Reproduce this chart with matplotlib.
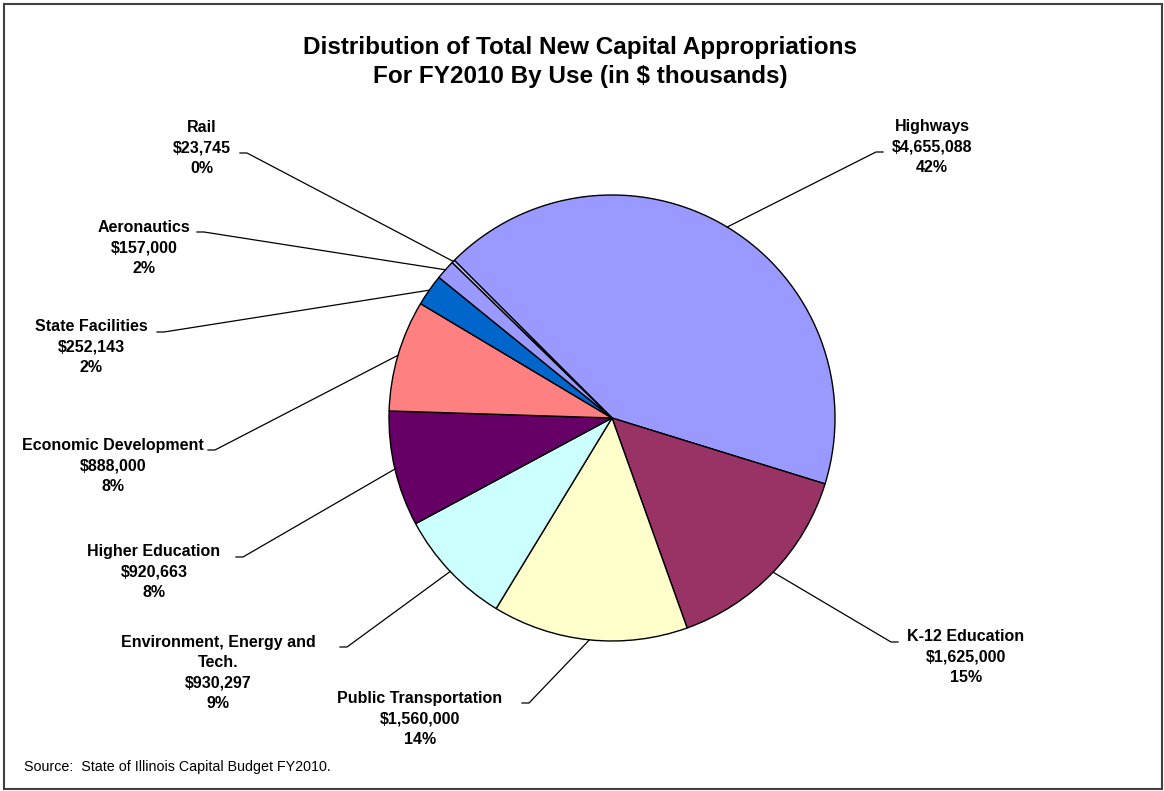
import numpy as np
import matplotlib
matplotlib.use("Agg")
import matplotlib.pyplot as plt
from matplotlib.patches import Rectangle

plt.rcParams['font.family'] = ['Liberation Sans', 'DejaVu Sans']

W, H = 1164, 791

# capital appropriations by use, $ thousands (clockwise from Highways)
uses = ["Highways", "K-12 Education", "Public Transportation",
        "Environment, Energy and\nTech.", "Higher Education",
        "Economic Development", "State Facilities", "Aeronautics", "Rail"]
amounts = [4655088, 1625000, 1560000, 930297, 920663, 888000, 252143, 157000, 23745]
shares = [42, 15, 14, 9, 8, 8, 2, 2, 0]
colors = ["#9999FF", "#993366", "#FFFFCC", "#CCFFFF", "#660066",
          "#FF8080", "#0066CC", "#9999FF", "#CCCCFF"]

# label block centres and where the leader leaves the text (pixels from top-left)
label_pos = [(932, 147), (966, 657), (420, 719), (218, 673), (154, 572),
             (113, 466), (91, 347), (144, 248), (202, 148)]
leader_start = [(883, 152), (898, 642), (522, 703), (340, 647), (236, 557),
                (208, 450), (157, 332), (197, 232), (240, 153)]
leader_dir = [-1, -1, 1, 1, 1, 1, 1, 1, 1]

cx, cy, r = 612, 418, 223


def py(y):
    return H - y


fig = plt.figure(figsize=(W / 100, H / 100), dpi=100)
ax = fig.add_axes([0, 0, 1, 1])

wedges, _ = ax.pie(amounts, colors=colors, startangle=135, counterclock=False,
                   radius=r, center=(cx, py(cy)),
                   wedgeprops=dict(edgecolor="black", linewidth=1.0))

for w, name, amt, pct, (lx, ly), (sx, sy), d in zip(wedges, uses, amounts, shares,
                                                      label_pos, leader_start, leader_dir):
    mid = np.deg2rad((w.theta1 + w.theta2) / 2)
    ex = cx + r * np.cos(mid)
    ey = py(cy) + r * np.sin(mid)
    ax.plot([sx, sx + 7 * d, ex], [py(sy), py(sy), ey], color="black", lw=0.9)
    ax.text(lx, py(ly), f"{name}\n${amt:,}\n{pct}%", ha="center", va="center",
            fontsize=11.5, fontweight="bold", linespacing=1.45)

ax.text(W / 2 - 2, py(62), "Distribution of Total New Capital Appropriations\n"
        "For FY2010 By Use (in $ thousands)", ha="center", va="center",
        fontsize=17.5, fontweight="bold", linespacing=1.35)

ax.text(24, py(767), "Source:  State of Illinois Capital Budget FY2010.",
        ha="left", va="center", fontsize=10.3)

ax.add_patch(Rectangle((4, 2), W - 6, H - 6, fill=False, edgecolor="#404040", lw=1.5))

ax.set_xlim(0, W)
ax.set_ylim(0, H)
ax.set_aspect("auto")
ax.axis("off")

fig.savefig("out.png", dpi=100)
